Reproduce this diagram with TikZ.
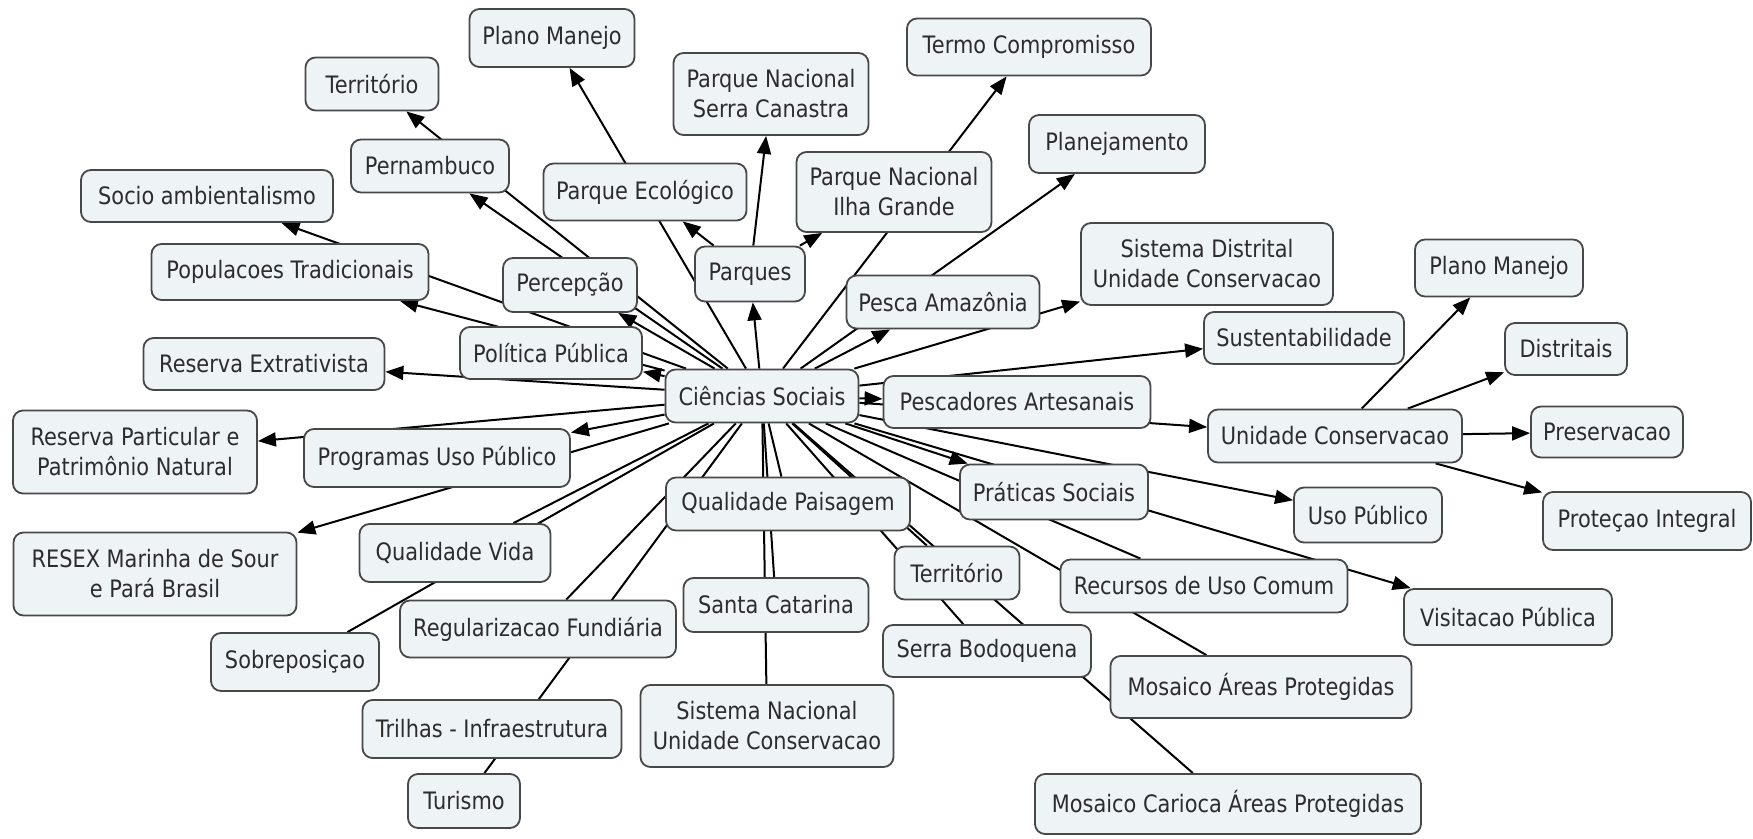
\documentclass[tikz,border=0pt]{standalone}
\usepackage{fontspec}
\setmainfont{DejaVu Sans}[FakeStretch=0.87]
\usetikzlibrary{arrows.meta}
\pgfdeclarelayer{paper}
\pgfdeclarelayer{edges}
\pgfsetlayers{paper,edges,main}
\definecolor{boxfill}{HTML}{EEF3F6}
\definecolor{boxline}{HTML}{484848}
\definecolor{ink}{HTML}{2C2C2C}
% concept box: name, position, text, width, height
\newcommand\cbox[5]{\node[concept, minimum width=#4pt, minimum height=#5pt] (#1) at (#2) {#3};}

\begin{document}
\begin{tikzpicture}[x=1pt,y=-1pt,
  concept/.style={draw=boxline, line width=1.8pt, fill=boxfill, rounded corners=10pt,
    text=ink, align=center, inner sep=0pt, font=\fontsize{24}{30}\selectfont},
  link/.style={draw=black, line width=2pt},
  arr/.style={link, -{Triangle[length=18pt,width=14pt]}}]

\begin{pgfonlayer}{paper}
  \fill[white] (0,0) rectangle (1753,838);
\end{pgfonlayer}
\useasboundingbox (0,0) rectangle (1753,838);

% concepts
\cbox{pmA}{552,38}{Plano Manejo}{165}{58}
\cbox{terA}{372,84}{Território}{133}{53}
\cbox{pern}{430,166}{Pernambuco}{158}{53}
\cbox{socio}{207,196}{Socio ambientalismo}{252}{52}
\cbox{popu}{290,272}{Populacoes Tradicionais}{277}{56}
\cbox{percep}{570,285}{Percepção}{134}{54}
\cbox{polit}{551,353}{Política Pública}{182}{52}
\cbox{rext}{264,364}{Reserva Extrativista}{241}{52}
\cbox{peco}{645,192}{Parque Ecológico}{203}{57}
\cbox{pnsc}{771,94}{Parque Nacional\\Serra Canastra}{195}{82}
\cbox{parques}{750,274}{Parques}{110}{55}
\cbox{pnig}{894,192}{Parque Nacional\\Ilha Grande}{195}{80}
\cbox{termo}{1029,47}{Termo Compromisso}{244}{57}
\cbox{planej}{1117,144}{Planejamento}{176}{58}
\cbox{sisdist}{1207,264}{Sistema Distrital\\Unidade Conservacao}{252}{82}
\cbox{pesca}{943,302}{Pesca Amazônia}{193}{53}
\cbox{sust}{1304,338}{Sustentabilidade}{200}{52}
\cbox{cs}{762,396}{Ciências Sociais}{193}{53}
\cbox{pescart}{1017,402}{Pescadores Artesanais}{267}{52}
\cbox{uc}{1335,436}{Unidade Conservacao}{254}{53}
\cbox{pmB}{1499,268}{Plano Manejo}{168}{57}
\cbox{distr}{1566,349}{Distritais}{122}{52}
\cbox{preserv}{1607,432}{Preservacao}{152}{51}
\cbox{protint}{1647,521}{Proteçao Integral}{208}{58}
\cbox{usopub}{1368,515}{Uso Público}{148}{55}
\cbox{visit}{1508,617}{Visitacao Pública}{208}{56}
\cbox{prat}{1054,492}{Práticas Sociais}{188}{55}
\cbox{recursos}{1204,586}{Recursos de Uso Comum}{287}{53}
\cbox{mosA}{1261,687}{Mosaico Áreas Protegidas}{301}{62}
\cbox{mosC}{1228,804}{Mosaico Carioca Áreas Protegidas}{386}{60}
\cbox{serra}{987,651}{Serra Bodoquena}{208}{52}
\cbox{terB}{957,573}{Território}{125}{53}
\cbox{qp}{788,504}{Qualidade Paisagem}{244}{53}
\cbox{sc}{776,605}{Santa Catarina}{185}{54}
\cbox{snuc}{767,726}{Sistema Nacional\\Unidade Conservacao}{253}{82}
\cbox{regfund}{538,629}{Regularizacao Fundiária}{276}{57}
\cbox{qv}{455,553}{Qualidade Vida}{191}{58}
\cbox{sobre}{295,662}{Sobreposiçao}{168}{58}
\cbox{trilhas}{492,729}{Trilhas - Infraestrutura}{259}{58}
\cbox{turismo}{464,801}{Turismo}{112}{54}
\cbox{progup}{437,458}{Programas Uso Público}{266}{58}
\cbox{rppn}{135,452}{Reserva Particular e\\Patrimônio Natural}{244}{83}
\cbox{resex}{155,574}{RESEX Marinha de Sour\\e Pará Brasil}{283}{83}

% links, drawn beneath the boxes
\begin{pgfonlayer}{edges}
  \foreach \t in {terA,pern,socio,popu,percep,polit,rext,pmA,parques,termo,planej,
                  pesca,sisdist,sust,pescart,uc,usopub,visit,prat,progup,resex,rppn}
    \draw[arr] (cs) -- (\t);
  \foreach \t in {qp,sc,snuc,terB,serra,mosC,recursos,mosA,regfund,turismo,qv,sobre}
    \draw[link] (cs) -- (\t);
  \foreach \t in {peco,pnsc,pnig}
    \draw[arr] (parques) -- (\t);
  \foreach \t in {pmB,distr,preserv,protint}
    \draw[arr] (uc) -- (\t);
\end{pgfonlayer}
\end{tikzpicture}
\end{document}
